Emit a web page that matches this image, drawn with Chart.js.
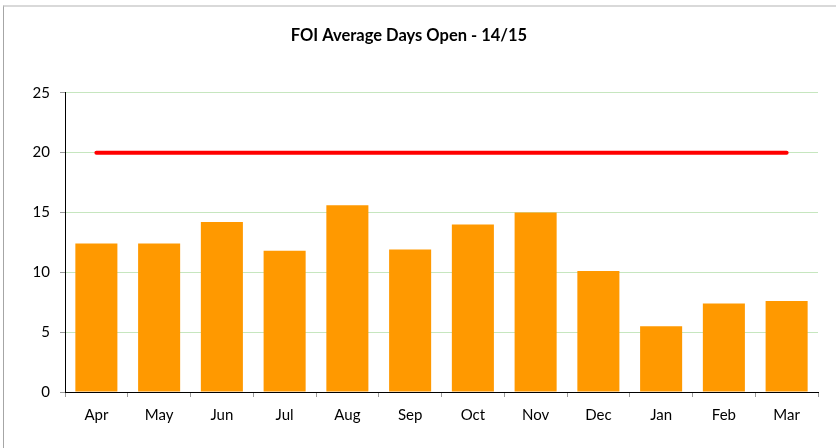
<!DOCTYPE html>
<html>
<head>
<meta charset="utf-8">
<script src="https://cdn.jsdelivr.net/npm/chart.js@4/dist/chart.umd.min.js"></script>
<style>
  html, body { margin: 0; padding: 0; background: #ffffff; }
  #wrap { position: relative; width: 836px; height: 448px; overflow: hidden; }
  #frame { position: absolute; left: 3px; top: 5px; width: 900px; height: 500px;
           border-left: 1px solid #a6a6a6; border-top: 2px solid #d9d9d9; }
  canvas { position: absolute; left: 0; top: 0; }
</style>
</head>
<body>
<div id="wrap">
  <div id="frame"></div>
  <canvas id="c" width="836" height="448"></canvas>
</div>
<script>
const chartTitle = "FOI Average Days Open - 14/15";
const months = ["Apr","May","Jun","Jul","Aug","Sep","Oct","Nov","Dec","Jan","Feb","Mar"];
const avgDaysOpen = [12.4, 12.4, 14.2, 11.8, 15.6, 11.9, 14.0, 15.0, 10.1, 5.5, 7.4, 7.6];
const target = [20, 20, 20, 20, 20, 20, 20, 20, 20, 20, 20, 20];
const yTicks = [0, 5, 10, 15, 20, 25];

const FONT = "Lato, 'Open Sans', sans-serif";

new Chart(document.getElementById('c'), {
  data: {
    labels: months,
    datasets: [
      {
        type: 'line',
        label: 'Target',
        data: target,
        borderColor: '#ff0000',
        borderWidth: 4,
        borderCapStyle: 'round',
        pointRadius: 0,
        fill: false,
        order: 0
      },
      {
        type: 'bar',
        label: 'Average Days Open',
        data: avgDaysOpen,
        backgroundColor: '#ff9900',
        borderWidth: 0,
        barPercentage: 0.67,
        categoryPercentage: 1.0,
        order: 1
      }
    ]
  },
  options: {
    responsive: false,
    animation: false,
    devicePixelRatio: 1,
    layout: { padding: { left: 0, right: 18, top: 0, bottom: 0 } },
    plugins: {
      legend: { display: false },
      tooltip: { enabled: false },
      title: {
        display: true,
        text: chartTitle,
        color: '#000000',
        font: { family: FONT, size: 16.5, weight: 'bold', lineHeight: 1.2 },
        padding: { top: 26, bottom: 47 }
      }
    },
    scales: {
      x: {
        offset: true,
        grid: {
          offset: true,
          drawOnChartArea: false,
          drawTicks: true,
          tickLength: 5,
          tickColor: '#9a9a9a'
        },
        border: { display: true, color: '#000000', width: 1 },
        ticks: {
          color: '#000000',
          font: { family: FONT, size: 15 },
          padding: 9,
          maxRotation: 0
        },
        afterFit: (s) => { s.height = 56; }
      },
      y: {
        min: 0,
        max: 25,
        afterBuildTicks: (s) => { s.ticks = yTicks.map(v => ({ value: v })); },
        grid: {
          color: '#c6e6bf',
          drawTicks: true,
          tickLength: 5,
          tickColor: '#9a9a9a'
        },
        border: { display: true, color: '#000000', width: 1 },
        ticks: {
          color: '#000000',
          font: { family: FONT, size: 15 },
          padding: 10
        },
        afterFit: (s) => { s.width = 65; }
      }
    }
  }
});
</script>
</body>
</html>
